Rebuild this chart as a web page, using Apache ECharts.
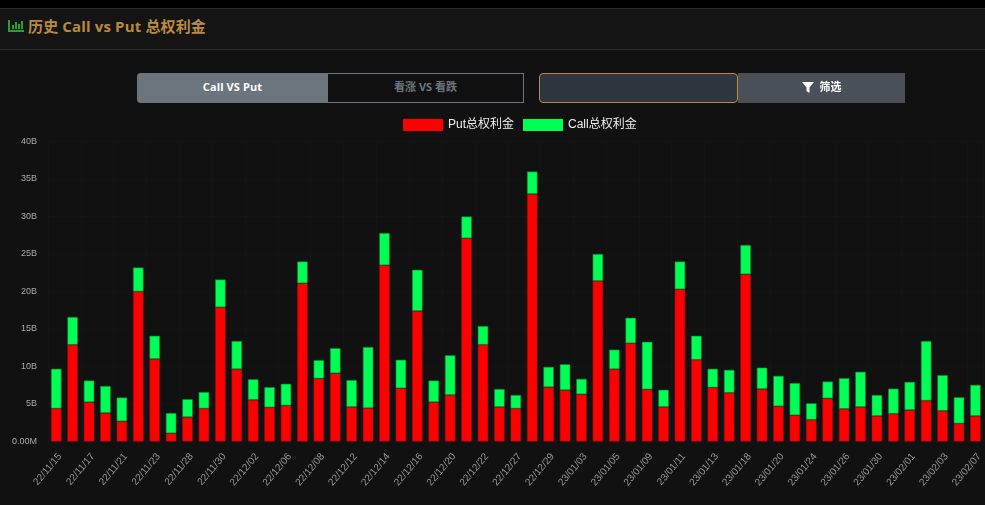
<!DOCTYPE html>
<html>
<head>
<meta charset="utf-8">
<style>
html, body { margin: 0; padding: 0; width: 985px; height: 505px; overflow: hidden; background: #111; font-family: "Open Sans", "Noto Sans CJK SC", sans-serif; }
.top { height: 8px; background: #000; border-bottom: 1px solid #2a2a2a; }
.head { position: absolute; left: 0; top: 9px; width: 985px; height: 40px; background: #141414; border-bottom: 1px solid #2e2e2e; }
.head svg { position: absolute; left: 8px; top: 10px; }
.head span { position: absolute; left: 28px; top: 6px; font-size: 15px; letter-spacing: 0.15px; line-height: 22px; font-weight: 700; color: #b98b40; }
.btn { position: absolute; top: 73px; height: 30px; line-height: 28px; text-align: center; font-size: 11px; font-weight: 700; box-sizing: border-box; }
#b1 { left: 137px; width: 191px; background: #6c757d; color: #fff; border-radius: 4px 0 0 4px; letter-spacing: 0.1px; }
#b2 { left: 328px; width: 196px; background: #101010; color: #6c757d; border: 1px solid #6c757d; border-left: 0; line-height: 26px; }
#b3 { left: 539px; width: 199px; background: #2f363d; border: 1px solid #b98b40; border-radius: 4px; }
#b4 { left: 738px; width: 167px; background: #495057; color: #fff; }
#b4 svg { vertical-align: -2px; margin-right: 6px; }
#main { position: absolute; left: 0; top: 0; width: 985px; height: 505px; }
</style>
</head>
<body>
<div id="main"></div>
<div class="top"></div>
<div class="head">
  <svg width="16" height="14" viewBox="0 0 16 14"><path d="M0 1h2v10h14v2H0z M4 6h2v4H4z M7 3h2v7H7z M10 5h2v5h-2z M13 2h2v8h-2z" fill="#28a02c"/></svg>
  <span>历史 Call vs Put 总权利金</span>
</div>
<div class="btn" id="b1">Call VS Put</div>
<div class="btn" id="b2">看涨 VS 看跌</div>
<div class="btn" id="b3"></div>
<div class="btn" id="b4"><svg width="12" height="11" viewBox="0 0 12 11"><path d="M0 0h12L7.5 5.5V11L4.5 9V5.5z" fill="#fff"/></svg>筛选</div>
<script src="https://cdn.jsdelivr.net/npm/echarts@6/dist/echarts.min.js"></script>
<script>
// 日期
var dates = ['22/11/15','22/11/16','22/11/17','22/11/18','22/11/21','22/11/22','22/11/23','22/11/25','22/11/28','22/11/29',
    '22/11/30','22/12/01','22/12/02','22/12/05','22/12/06','22/12/07','22/12/08','22/12/09','22/12/12','22/12/13',
    '22/12/14','22/12/15','22/12/16','22/12/19','22/12/20','22/12/21','22/12/22','22/12/23','22/12/27','22/12/28',
    '22/12/29','22/12/30','23/01/03','23/01/04','23/01/05','23/01/06','23/01/09','23/01/10','23/01/11','23/01/12',
    '23/01/13','23/01/17','23/01/18','23/01/19','23/01/20','23/01/23','23/01/24','23/01/25','23/01/26','23/01/27',
    '23/01/30','23/01/31','23/02/01','23/02/02','23/02/03','23/02/06','23/02/07'];

// 单位: B
var putPremium = [4.4,12.9,5.25,3.8,2.7,20.0,11.0,1.1,3.25,4.4,
    17.9,9.65,5.55,4.55,4.8,21.1,8.4,9.1,4.6,4.45,
    23.5,7.1,17.4,5.25,6.2,27.1,12.9,4.6,4.4,33.0,
    7.25,6.85,6.3,21.4,9.65,13.1,6.95,4.6,20.3,10.9,
    7.2,6.5,22.3,7.0,4.7,3.5,2.9,5.75,4.35,4.6,
    3.4,3.7,4.2,5.45,4.1,2.4,3.4];
var callPremium = [5.3,3.7,2.88,3.6,3.17,3.2,3.1,2.7,2.4,2.2,
    3.7,3.75,2.75,2.7,2.9,2.9,2.45,3.35,3.6,8.15,
    4.3,3.8,5.5,2.88,5.3,2.9,2.5,2.4,1.8,3.0,
    2.7,3.45,2.05,3.6,2.6,3.4,6.35,2.3,3.7,3.2,
    2.5,3.05,3.9,2.85,4.05,4.3,2.2,2.25,4.1,4.7,
    2.8,3.35,3.75,7.95,4.75,3.5,4.15];

var myChart = echarts.init(document.getElementById('main'));

var option = {
    backgroundColor: 'transparent',
    animation: false,
    legend: {
        left: 398,
        top: 114,
        icon: 'rect',
        itemWidth: 40,
        itemHeight: 12,
        itemGap: 9,
        itemStyle: { borderWidth: 0 },
        textStyle: { color: '#eee', fontSize: 12, fontFamily: 'Liberation Sans, Noto Sans CJK SC' },
        data: ['Put总权利金', 'Call总权利金']
    },
    grid: { left: 48, right: 1, top: 141.5, bottom: 63.5 },
    xAxis: {
        type: 'category',
        data: dates,
        axisLine: { show: false },
        axisTick: { show: false },
        splitLine: { show: true, lineStyle: { color: '#141414' } },
        axisLabel: {
            interval: 1,
            rotate: 50,
            color: '#999',
            fontSize: 10,
            margin: 10,
            verticalAlign: 'top',
            fontFamily: 'Liberation Sans'
        }
    },
    yAxis: {
        type: 'value',
        min: 0,
        max: 40,
        interval: 5,
        axisLine: { show: false },
        axisTick: { show: false },
        splitLine: { lineStyle: { color: '#141414' } },
        axisLabel: {
            color: '#aaa',
            fontSize: 9,
            margin: 11,
            fontFamily: 'Liberation Sans',
            formatter: function (v) {
                return v === 0 ? '0.00M' : v + 'B';
            }
        }
    },
    series: [{
        name: 'Put总权利金',
        type: 'bar',
        stack: 'premium',
        barWidth: 10.5,
        itemStyle: { color: '#ff0000', borderColor: '#8a1010', borderWidth: 0.6 },
        data: putPremium
    }, {
        name: 'Call总权利金',
        type: 'bar',
        stack: 'premium',
        barWidth: 10.5,
        itemStyle: { color: '#00ff55', borderColor: '#0f7a35', borderWidth: 0.6 },
        data: callPremium
    }]
};

myChart.setOption(option);
</script>
</body>
</html>
